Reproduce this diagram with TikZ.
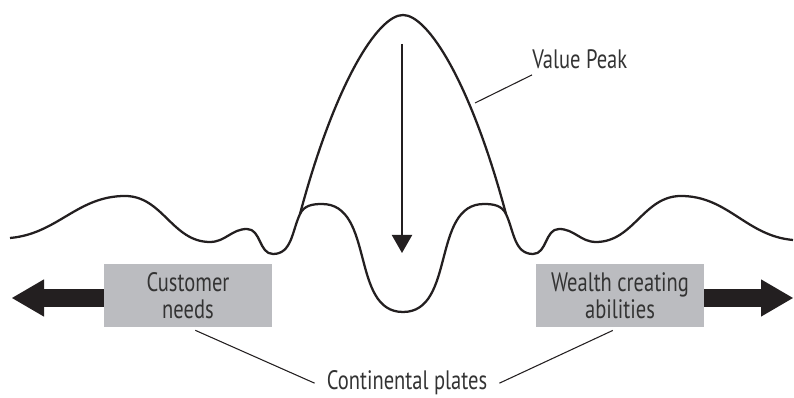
\documentclass[tikz,border=0pt]{standalone}
\usepackage{fontspec}
\setmainfont{PT Sans}[FakeStretch=0.77]
\usepackage{xcolor}
\usepackage{tikz}
\usetikzlibrary{arrows.meta}
\definecolor{inkblack}{HTML}{231F20}
\definecolor{plategray}{RGB}{187,188,192}
\definecolor{labeltext}{HTML}{333333}
\tikzset{
  wave/.style={inkblack, line width=1.7pt, line join=round},
  plate/.style={rectangle, fill=plategray, text=labeltext, align=center,
    minimum width=126pt, minimum height=47pt, inner sep=0pt,
    font=\fontsize{20}{20}\selectfont},
  caption/.style={text=labeltext, font=\fontsize{20}{20}\selectfont},
  leader/.style={inkblack, line width=0.8pt},
  push/.style={-{Triangle[length=24pt, width=28pt, line width=0pt]}, inkblack, line width=14pt},
  sink/.style={-{Triangle[length=13.5pt, width=15pt]}, inkblack, line width=1.5pt}
}

\begin{document}
\begin{tikzpicture}[x=0.75pt, y=0.75pt]
        \useasboundingbox (0,0) rectangle (794,398);
        % ground line with the dip under the peak
        \draw[wave] (10,160) to[out=5,in=180] (125,202) to[out=0,in=180] (210,156)
          to[out=0,in=180] (247,169) to[out=0,in=180] (273,144)
          to[out=0,in=-115] (300,184) to[out=65,in=180] (322,194)
          to[out=0,in=180] (403,86) to[out=0,in=180] (484,194)
          to[out=0,in=115] (506,184) to[out=-65,in=180] (533,144)
          to[out=0,in=180] (559,169) to[out=0,in=180] (596,156)
          to[out=0,in=180] (681,202) to[out=0,in=175] (793,158);
        % the peak
        \draw[wave] (300,184) .. controls (335,315) and (378,383) .. (403,383)
          .. controls (428,383) and (471,315) .. (506,184);
        \coordinate (sinktop) at (402,354);
        \coordinate (sinkbot) at (402,145);
        \draw[sink] (sinktop) -- (sinkbot);
        % plates
        \node[plate] (needs) at (188,102.5) {Customer\\needs};
        \node[plate] (wealth) at (620,102.5) {Wealth creating\\abilities};
        \coordinate (lefttip) at (12,100);
        \coordinate (righttip) at (793,100);
        \draw[push] (needs.west |- lefttip) -- (lefttip);
        \draw[push] (wealth.east |- righttip) -- (righttip);
        % labels
        \node[caption, inner xsep=0pt, inner ysep=4pt, anchor=base west] (vpeak) at (532,329) {Value Peak};
        \coordinate (peakside) at (475,295);
        \draw[leader] (vpeak.south west) -- (peakside);
        \node[caption, inner xsep=9pt, anchor=base] (plates) at (407,8) {Continental plates};
        \draw[leader, shorten >=6pt] (plates.west) -- (needs.south);
        \draw[leader, shorten >=6pt] (plates.east) -- (wealth.south);
      \end{tikzpicture}
\end{document}
